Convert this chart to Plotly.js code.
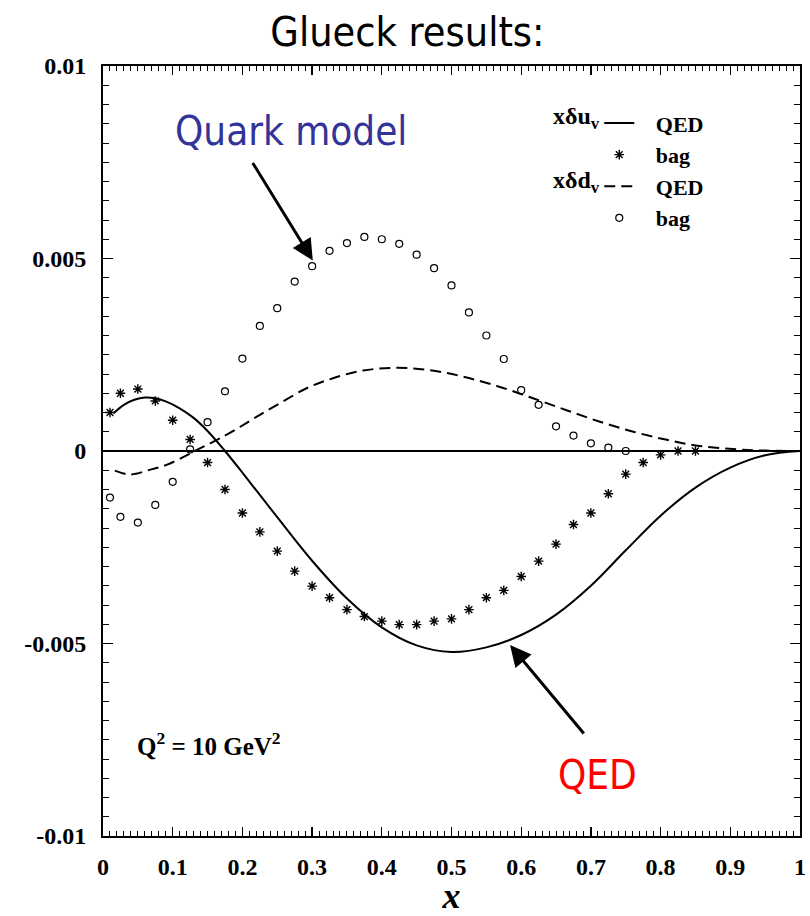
<!DOCTYPE html>
<html>
<head>
<meta charset="utf-8">
<script src="https://cdn.plot.ly/plotly-3.0.1.min.js"></script>
<style>html,body{margin:0;padding:0;background:#fff;}#chart{width:810px;height:916px;}</style>
</head>
<body>
<div id="chart"></div>
<script>
// xδu_v QED (solid curve)
var uQedX = [0.015, 0.03, 0.045, 0.06, 0.075, 0.09, 0.11, 0.13, 0.15, 0.175, 0.2, 0.25, 0.3, 0.35, 0.4, 0.45, 0.5, 0.55, 0.6, 0.65, 0.7, 0.75, 0.8, 0.85, 0.9, 0.95, 1.0];
var uQedY = [0.00098, 0.00120, 0.00133, 0.00139, 0.00137, 0.00129, 0.00111, 0.00086, 0.00052, 0.0, -0.00056, -0.00172, -0.00285, -0.00383, -0.00458, -0.00505, -0.00522, -0.00510, -0.00478, -0.00425, -0.00350, -0.00258, -0.00168, -0.00095, -0.00043, -0.00011, 0.0];
// xδd_v QED (dashed curve)
var dQedX = [0.017, 0.039, 0.067, 0.091, 0.115, 0.132, 0.149, 0.168, 0.197, 0.225, 0.254, 0.292, 0.330, 0.373, 0.421, 0.469, 0.517, 0.565, 0.617, 0.665, 0.713, 0.761, 0.809, 0.856, 0.904, 0.950, 1.0];
var dQedY = [-0.00051, -0.00061, -0.00049, -0.00036, -0.00016, 0.0, 0.00016, 0.00033, 0.00063, 0.00094, 0.00124, 0.00163, 0.00189, 0.00209, 0.00216, 0.00210, 0.00193, 0.00169, 0.00137, 0.00106, 0.00076, 0.00050, 0.00029, 0.00013, 0.00005, 0.00001, 0.0];
// xδu_v bag (asterisks)
var uBagX = [0.01, 0.025, 0.05, 0.075, 0.1, 0.125, 0.15, 0.175, 0.2, 0.225, 0.25, 0.275, 0.3, 0.325, 0.35, 0.375, 0.4, 0.425, 0.45, 0.475, 0.5, 0.525, 0.55, 0.575, 0.6, 0.625, 0.65, 0.675, 0.7, 0.725, 0.75, 0.775, 0.8, 0.825, 0.85];
var uBagY = [0.00100, 0.00150, 0.00161, 0.00130, 0.00080, 0.00030, -0.00030, -0.00100, -0.00161, -0.00210, -0.00260, -0.00312, -0.00351, -0.00381, -0.00412, -0.00430, -0.00442, -0.00451, -0.00451, -0.00442, -0.00436, -0.00412, -0.00381, -0.00362, -0.00326, -0.00286, -0.00242, -0.00191, -0.00161, -0.00111, -0.00060, -0.00030, -0.00010, 0.0, 0.0];
// xδd_v bag (open circles)
var dBagX = [0.01, 0.025, 0.05, 0.075, 0.1, 0.125, 0.15, 0.175, 0.2, 0.225, 0.25, 0.275, 0.3, 0.325, 0.35, 0.375, 0.4, 0.425, 0.45, 0.475, 0.5, 0.525, 0.55, 0.575, 0.6, 0.625, 0.65, 0.675, 0.7, 0.725, 0.75];
var dBagY = [-0.00121, -0.00171, -0.00186, -0.00140, -0.00080, 0.00004, 0.00075, 0.00155, 0.00240, 0.00325, 0.00371, 0.00440, 0.00480, 0.00520, 0.00540, 0.00556, 0.00550, 0.00538, 0.00510, 0.00475, 0.00430, 0.00360, 0.00300, 0.00239, 0.00158, 0.00120, 0.00064, 0.00040, 0.00020, 0.00009, 0.0];

var yTickVals = [-0.01, -0.005, 0, 0.005, 0.01];
var yTickText = ['-0.01', '-0.005', '0', '0.005', '0.01'];
var xTickVals = [0, 0.1, 0.2, 0.3, 0.4, 0.5, 0.6, 0.7, 0.8, 0.9, 1];
var xTickText = ['0', '0.1', '0.2', '0.3', '0.4', '0.5', '0.6', '0.7', '0.8', '0.9', '1'];

var serif = 'Liberation Serif, Times New Roman, serif';
var sans = 'DejaVu Sans Condensed, DejaVu Sans, sans-serif';
var nb = '\u00a0\u00a0\u00a0';

var traces = [
  {x: uQedX, y: uQedY, type: 'scatter', mode: 'lines', name: nb + 'QED',
   line: {color: '#000', width: 2, shape: 'spline', smoothing: 1}},
  {x: uBagX, y: uBagY, type: 'scatter', mode: 'markers', name: nb + 'bag',
   marker: {symbol: 'asterisk-open', size: 8, color: '#000', line: {color: '#000', width: 1.4}}},
  {x: dQedX, y: dQedY, type: 'scatter', mode: 'lines', name: nb + 'QED',
   line: {color: '#000', width: 2, dash: '11px,6px', shape: 'spline', smoothing: 1}},
  {x: dBagX, y: dBagY, type: 'scatter', mode: 'markers', name: nb + 'bag',
   marker: {symbol: 'circle-open', size: 7, color: '#000', line: {color: '#000', width: 1.2}}}
];

var axisCommon = {
  showgrid: false, showline: true, linecolor: '#000', linewidth: 2, mirror: 'allticks',
  ticks: 'inside', tickcolor: '#000', tickwidth: 1.3,
  tickfont: {family: serif, size: 24, color: '#000', weight: 'bold'}
};

var layout = {
  width: 810, height: 916,
  margin: {l: 103, r: 10, t: 66, b: 80},
  paper_bgcolor: '#fff', plot_bgcolor: '#fff',
  title: {text: 'Glueck results:', x: 0.503, xref: 'container', xanchor: 'center', y: 0.965, yref: 'container', yanchor: 'middle',
          font: {family: sans, size: 41, color: '#000'}},
  xaxis: Object.assign({}, axisCommon, {
    range: [0, 1], tickmode: 'array', tickvals: xTickVals, ticktext: xTickText, ticklen: 9,
    ticklabelstandoff: 8,
    minor: {dtick: 0.01, ticks: 'inside', ticklen: 5, tickcolor: '#000', tickwidth: 1},
    zeroline: false,
    title: {text: '<i>x</i>', standoff: 8, font: {family: serif, size: 36, color: '#000', weight: 'bold'}}
  }),
  yaxis: Object.assign({}, axisCommon, {
    range: [-0.01, 0.01], tickmode: 'array', tickvals: yTickVals, ticktext: yTickText, ticklen: 10,
    ticklabelstandoff: 10,
    minor: {dtick: 0.0005, ticks: 'inside', ticklen: 6, tickcolor: '#000', tickwidth: 1},
    zeroline: true, zerolinecolor: '#000', zerolinewidth: 1.5
  }),
  showlegend: true,
  legend: {x: 0.712, xanchor: 'left', y: 0.953, yanchor: 'top', bgcolor: 'rgba(0,0,0,0)',
           font: {family: serif, size: 22, color: '#000', weight: 'bold'}, itemwidth: 30,
           traceorder: 'normal'},
  annotations: [
    {xref: 'paper', yref: 'paper', x: 0.716, y: 0.9324, xanchor: 'right', yanchor: 'middle', showarrow: false,
     text: 'x\u03b4u<sub>v</sub>', font: {family: serif, size: 24, color: '#000', weight: 'bold'}},
    {xref: 'paper', yref: 'paper', x: 0.716, y: 0.8499, xanchor: 'right', yanchor: 'middle', showarrow: false,
     text: 'x\u03b4d<sub>v</sub>', font: {family: serif, size: 24, color: '#000', weight: 'bold'}},
    {xref: 'paper', yref: 'paper', x: 0.046, y: 0.119, xanchor: 'left', yanchor: 'middle', showarrow: false,
     text: 'Q<sup>2</sup> = 10 GeV<sup>2</sup>', font: {family: serif, size: 25, color: '#000', weight: 'bold'}},
    {xref: 'paper', yref: 'paper', x: 0.1, y: 0.915, xanchor: 'left', yanchor: 'middle', showarrow: false,
     text: 'Quark model', font: {family: sans, size: 40, color: '#333399'}},
    {xref: 'paper', yref: 'paper', x: 0.709, y: 0.079, xanchor: 'center', yanchor: 'middle', showarrow: false,
     text: 'QED', font: {family: sans, size: 40, color: '#ff0000'}},
    {xref: 'x', yref: 'y', x: 0.301, y: 0.00495, ax: -61, ay: -99, showarrow: true, text: '',
     arrowhead: 2, arrowsize: 1.4, arrowwidth: 3, arrowcolor: '#000'},
    {xref: 'x', yref: 'y', x: 0.584, y: -0.00504, ax: 75, ay: 90, showarrow: true, text: '',
     arrowhead: 2, arrowsize: 1.4, arrowwidth: 3, arrowcolor: '#000'}
  ]
};

Plotly.newPlot('chart', traces, layout, {displayModeBar: false, staticPlot: true});
</script>
</body>
</html>
